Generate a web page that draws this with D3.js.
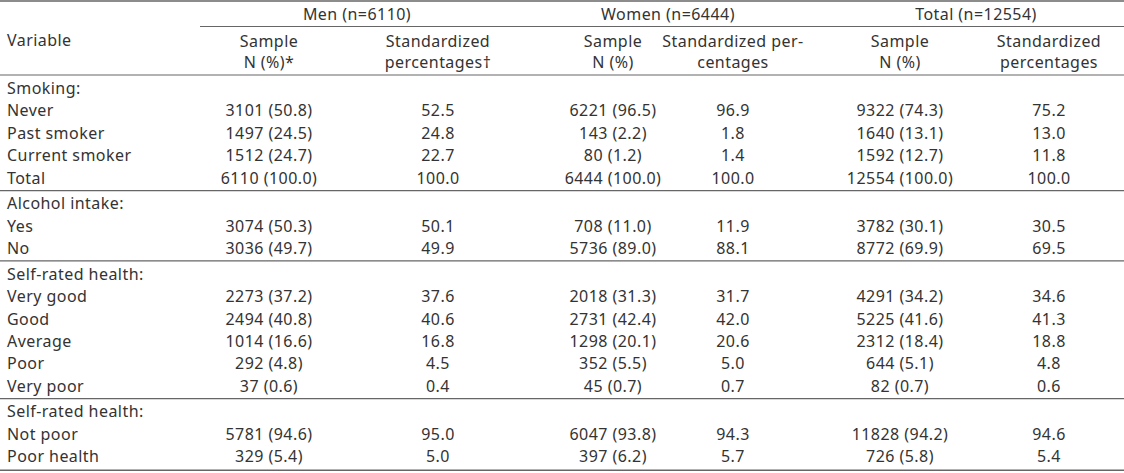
<!DOCTYPE html>
<html>
<head>
<meta charset="utf-8">
<script src="https://cdn.jsdelivr.net/npm/d3@7"></script>
<style>
  html, body { margin: 0; padding: 0; background: #fff; }
  svg text { font-family: "Noto Sans", "DejaVu Sans", sans-serif; font-size: 16px; fill: #333; letter-spacing: 0.45px; }
</style>
</head>
<body>
<svg id="chart" width="1124" height="473"></svg>
<script>
// ---- data ----
const groupHeaders = ["Men (n=6110)", "Women (n=6444)", "Total (n=12554)"];
const subHeaderTop = ["Sample", "Standardized", "Sample", "Standardized per-", "Sample", "Standardized"];
const subHeaderBottom = ["N (%)*", "percentages†", "N (%)", "centages", "N (%)", "percentages"];
const rowLabels = ["Smoking:", "Never", "Past smoker", "Current smoker", "Total",
  "Alcohol intake:", "Yes", "No",
  "Self-rated health:", "Very good", "Good", "Average", "Poor", "Very poor",
  "Self-rated health:", "Not poor", "Poor health"];
const rowBlock = [0,0,0,0,0, 1,1,1, 2,2,2,2,2,2, 3,3,3];
const menSample = ["", "3101 (50.8)", "1497 (24.5)", "1512 (24.7)", "6110 (100.0)",
  "", "3074 (50.3)", "3036 (49.7)",
  "", "2273 (37.2)", "2494 (40.8)", "1014 (16.6)", "292 (4.8)", "37 (0.6)",
  "", "5781 (94.6)", "329 (5.4)"];
const menStd = ["", "52.5", "24.8", "22.7", "100.0",
  "", "50.1", "49.9",
  "", "37.6", "40.6", "16.8", "4.5", "0.4",
  "", "95.0", "5.0"];
const womenSample = ["", "6221 (96.5)", "143 (2.2)", "80 (1.2)", "6444 (100.0)",
  "", "708 (11.0)", "5736 (89.0)",
  "", "2018 (31.3)", "2731 (42.4)", "1298 (20.1)", "352 (5.5)", "45 (0.7)",
  "", "6047 (93.8)", "397 (6.2)"];
const womenStd = ["", "96.9", "1.8", "1.4", "100.0",
  "", "11.9", "88.1",
  "", "31.7", "42.0", "20.6", "5.0", "0.7",
  "", "94.3", "5.7"];
const totalSample = ["", "9322 (74.3)", "1640 (13.1)", "1592 (12.7)", "12554 (100.0)",
  "", "3782 (30.1)", "8772 (69.9)",
  "", "4291 (34.2)", "5225 (41.6)", "2312 (18.4)", "644 (5.1)", "82 (0.7)",
  "", "11828 (94.2)", "726 (5.8)"];
const totalStd = ["", "75.2", "13.0", "11.8", "100.0",
  "", "30.5", "69.5",
  "", "34.6", "41.3", "18.8", "4.8", "0.6",
  "", "94.6", "5.4"];

// ---- layout ----
const svg = d3.select("#chart");
const W = 1124;
const columns = [menSample, menStd, womenSample, womenStd, totalSample, totalStd];
const colX = d3.scaleOrdinal().domain(d3.range(6)).range([269, 438, 613, 733, 900, 1049]);
const groupX = d3.scaleOrdinal().domain(d3.range(3)).range([357, 668, 976]);
const rowY = d3.scaleLinear().domain([0, 1]).range([88, 88 + 22.45]);
const blockShift = 3;
const yOf = i => rowY(i) + rowBlock[i] * blockShift;

const lineColor = "#666";
function hline(x1, x2, y, w) {
  svg.append("line").attr("x1", x1).attr("x2", x2).attr("y1", y).attr("y2", y)
    .attr("stroke", lineColor).attr("stroke-width", w || 1.2);
}

// header lines
hline(0, W, 1, 1.4);
hline(200, W, 26.5, 1.2);
hline(0, W, 75, 1.2);

// header text
svg.append("text").attr("x", 7).attr("y", 40).attr("dominant-baseline", "central").text("Variable");
svg.selectAll("text.grp").data(groupHeaders).join("text").attr("class", "grp")
  .attr("x", (d, i) => groupX(i)).attr("y", 14).attr("text-anchor", "middle")
  .attr("dominant-baseline", "central").text(d => d);
svg.selectAll("text.sh1").data(subHeaderTop).join("text").attr("class", "sh1")
  .attr("x", (d, i) => colX(i)).attr("y", 41).attr("text-anchor", "middle")
  .attr("dominant-baseline", "central").text(d => d);
svg.selectAll("text.sh2").data(subHeaderBottom).join("text").attr("class", "sh2")
  .attr("x", (d, i) => colX(i)).attr("y", 62).attr("text-anchor", "middle")
  .attr("dominant-baseline", "central").text(d => d);

// body rows
svg.selectAll("text.lab").data(rowLabels).join("text").attr("class", "lab")
  .attr("x", 7).attr("y", (d, i) => yOf(i))
  .attr("dominant-baseline", "central").text(d => d);

columns.forEach((col, c) => {
  svg.selectAll("text.c" + c).data(col).join("text").attr("class", "c" + c)
    .attr("x", colX(c)).attr("y", (d, i) => yOf(i)).attr("text-anchor", "middle")
    .attr("dominant-baseline", "central").text(d => d);
});

// block separators
const nRows = rowLabels.length;
for (let i = 0; i < nRows - 1; i++) {
  if (rowBlock[i] !== rowBlock[i + 1]) {
    hline(0, W, (yOf(i) + yOf(i + 1)) / 2, 1.2);
  }
}
hline(0, W, yOf(nRows - 1) + 14, 1.4);
</script>
</body>
</html>
